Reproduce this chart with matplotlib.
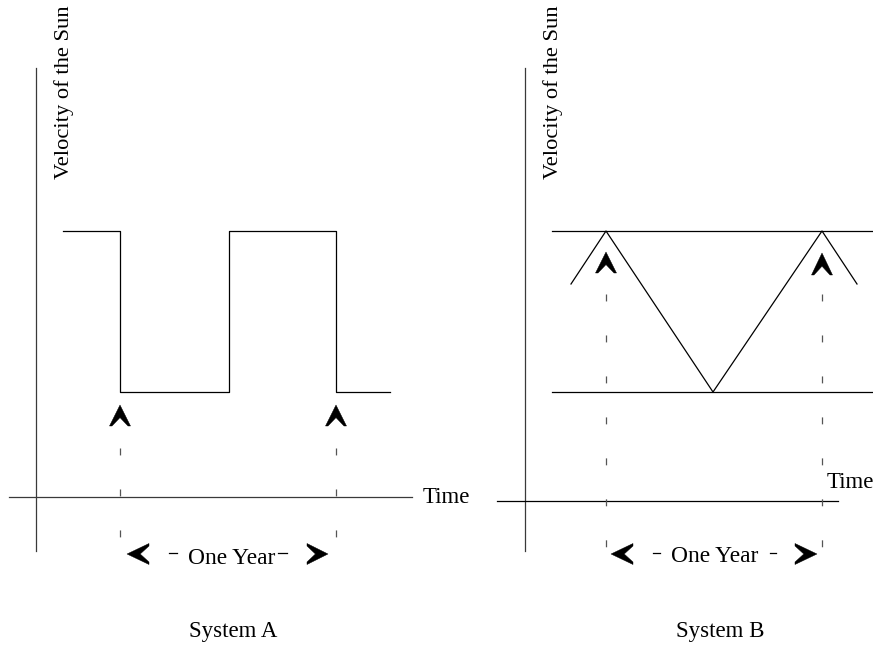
import matplotlib
matplotlib.use("Agg")
import matplotlib.pyplot as plt
from matplotlib.patches import Polygon

plt.rcParams['lines.scale_dashes'] = False
FONT = ['Liberation Serif', 'DejaVu Serif']

# ---- data (diagram units: x = time position, y = velocity position, y grows downward) ----
# System A: square-wave velocity
sqA_time = [63, 120, 120, 229, 229, 336, 336, 390]
sqA_vel = [231, 231, 392, 392, 231, 231, 392, 392]
markA_times = [120, 336]

# System B: triangle-wave velocity between two reference levels
triB_time = [571, 606, 713, 822, 857]
triB_vel = [284, 231, 392, 231, 284]
refB_levels = [231, 392]
markB_times = [606, 822]

labels_axis_y = "Velocity of the Sun"
label_time = "Time"
label_period = "One Year"
panel_titles = ["System A", "System B"]

W, H = 873, 645
fig = plt.figure(figsize=(W / 100, H / 100), dpi=100)
ax = fig.add_axes([0, 0, 1, 1])
ax.set_xlim(0, W)
ax.set_ylim(H, 0)
ax.axis('off')

LW = 0.9
AXC = '#3a3a3a'
DASHC = '#555555'
dash = (0, (5.0, 24.5))


def up_chevron(x, tip, base, hw=10.5, foot=2.5):
    notch = tip + 0.60 * (base - tip)
    return Polygon([(x, tip), (x + hw, base), (x + hw - foot, base), (x, notch),
                    (x - hw + foot, base), (x - hw, base)],
                   closed=True, color='black', lw=0.3)


def h_chevron(tip_x, back_x, yc, hh=10.5, foot=2.5):
    notch = tip_x + 0.60 * (back_x - tip_x)
    return Polygon([(tip_x, yc), (back_x, yc - hh), (back_x, yc - hh + foot), (notch, yc),
                    (back_x, yc + hh - foot), (back_x, yc + hh)],
                   closed=True, color='black', lw=0.3)


# ---------------- System A ----------------
ax.plot([36, 36], [68, 551], color=AXC, lw=LW)
ax.plot([9, 412], [497, 497], color=AXC, lw=LW)
ax.plot(sqA_time, sqA_vel, color='black', lw=LW)
for t in markA_times:
    ax.plot([t, t], [448, 538], color=DASHC, lw=LW, linestyle=dash)
    ax.add_patch(up_chevron(t, 405, 426))
ax.text(64, 92, labels_axis_y, rotation=90, ha='center', va='center',
        fontsize=16.2, family=FONT)
ax.text(423, 503, label_time, ha='left', va='baseline', fontsize=16.5, family=FONT)
ax.add_patch(h_chevron(127, 149, 554))
ax.add_patch(h_chevron(328, 307, 554))
ax.plot([169, 177], [553, 553], color='black', lw=LW)
ax.plot([278, 287], [553, 553], color='black', lw=LW)
ax.text(232, 564, label_period, ha='center', va='baseline', fontsize=16.8, family=FONT)
ax.text(233, 637, panel_titles[0], ha='center', va='baseline', fontsize=16.5, family=FONT)

# ---------------- System B ----------------
ax.plot([525, 525], [68, 551], color=AXC, lw=LW)
ax.plot([497, 838], [501, 501], color='black', lw=LW)
for lv in refB_levels:
    ax.plot([552, 872], [lv, lv], color='black', lw=LW)
ax.plot(triB_time, triB_vel, color='black', lw=LW)
for t in markB_times:
    ax.plot([t, t], [294, 549], color=DASHC, lw=LW, linestyle=dash)
ax.add_patch(up_chevron(markB_times[0], 252, 273))
ax.add_patch(up_chevron(markB_times[1], 253, 275))
ax.text(553, 92, labels_axis_y, rotation=90, ha='center', va='center',
        fontsize=16.2, family=FONT)
ax.text(827, 488, label_time, ha='left', va='baseline', fontsize=16.5, family=FONT)
ax.add_patch(h_chevron(611, 633, 554))
ax.add_patch(h_chevron(817, 795, 554))
ax.plot([653, 660], [553, 553], color='black', lw=LW)
ax.plot([770, 776], [553, 553], color='black', lw=LW)
ax.text(715, 562, label_period, ha='center', va='baseline', fontsize=16.8, family=FONT)
ax.text(720, 637, panel_titles[1], ha='center', va='baseline', fontsize=16.5, family=FONT)

fig.savefig('out.png', dpi=100)
